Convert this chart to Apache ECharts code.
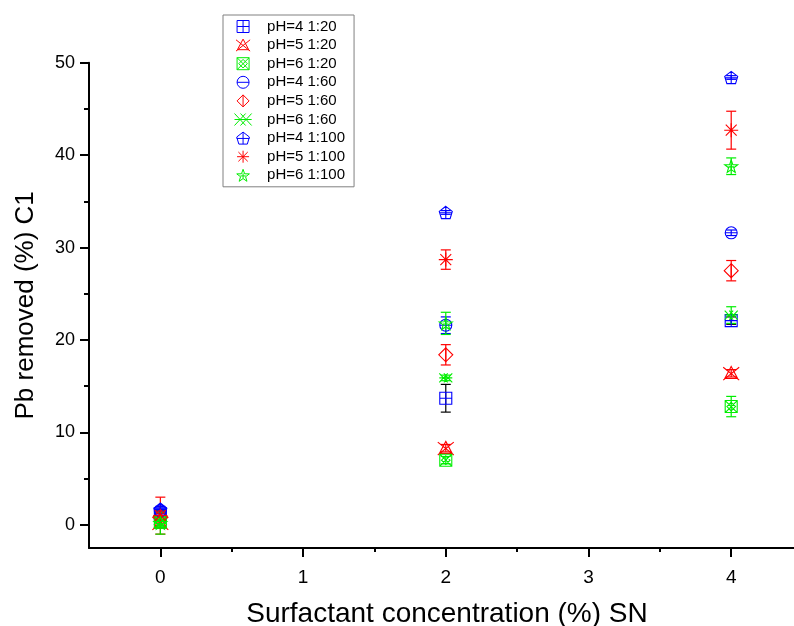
<!DOCTYPE html>
<html>
<head>
<meta charset="utf-8">
<script src="https://cdn.jsdelivr.net/npm/echarts@6/dist/echarts.min.js"></script>
<style>
  html, body { margin: 0; padding: 0; background: #fff; }
  #chart { width: 794px; height: 626px; }
</style>
</head>
<body>
<div id="chart"></div>
<script>
// surfactant concentration (x)
var concentrations = [0, 2, 4];

// Pb removed (%), mean values per series
var pH4_1_20 = [1.2, 13.7, 22.1];
var pH5_1_20 = [0.2, 8.3, 16.4];
var pH6_1_20 = [0.3, 7.0, 12.8];
var pH4_1_60 = [1.5, 21.6, 31.6];
var pH5_1_60 = [0.9, 18.4, 27.5];
var pH6_1_60 = [0.5, 15.9, 22.7];
var pH4_1_100 = [1.7, 33.8, 48.4];
var pH5_1_100 = [1.0, 28.7, 42.7];
var pH6_1_100 = [0.2, 21.8, 38.8];

// error bar half-widths
var err4_20 = [0.4, 1.5, 0.4];
var err5_20 = [0.3, 0.4, 0.4];
var err6_20 = [0.5, 0.4, 1.1];
var err4_60 = [0.3, 0.9, 0.3];
var err5_60 = [0.5, 1.1, 1.1];
var err6_60 = [0.8, 0.3, 0.9];
var err4_100 = [0.3, 0.2, 0.2];
var err5_100 = [2.0, 1.05, 2.05];
var err6_100 = [1.2, 1.2, 0.9];

var xTicks = [0, 1, 2, 3, 4];
var xMinorTicks = [0.5, 1.5, 2.5, 3.5];
var yTicks = [0, 10, 20, 30, 40, 50];
var yMinorTicks = [5, 15, 25, 35, 45];

var BLUE = '#0000ff', RED = '#ff0000', GREEN = '#00ee00';

// outline markers
var mk = {
  sqPlus: 'path://M2,2L18,2L18,18L2,18Z M10,2L10,18 M2,10L18,10',
  triX: 'path://M10,3L18,18L2,18Z M0,4L20,20 M20,4L0,20',
  sqX: 'path://M3,3L17,3L17,17L3,17Z M3,3L17,17 M17,3L3,17 M10,5L15,10L10,15L5,10Z',
  circMinus: 'path://M2,10A8,8,0,1,1,18,10A8,8,0,1,1,2,10Z M2,10L18,10',
  diaLine: 'path://M10,1L19,10L10,19L1,10Z M10,1L10,19',
  doubleX: 'path://M0,3L13,17 M13,3L0,17 M7,3L20,17 M20,3L7,17 M0,10L20,10',
  pentPlus: 'path://M10,1L19,8L16,18L4,18L1,8Z M10,1L10,18 M1,10L19,10',
  aster: 'path://M1,10L19,10 M3,3L17,17 M17,3L3,17 M10,1L10,19',
  star: 'path://M10,0L12.35,6.76L19.51,6.91L13.8,11.24L15.88,18.09L10,14L4.12,18.09L6.2,11.24L0.49,6.91L7.65,6.76Z M10,6L10,14 M6,10L14,10'
};

var groups = [
  { name: 'pH=4 1:20', y: pH4_1_20, e: err4_20, color: BLUE, errColor: '#000000', symbol: mk.sqPlus, size: 12 },
  { name: 'pH=5 1:20', y: pH5_1_20, e: err5_20, color: RED, errColor: RED, symbol: mk.triX, size: 16 },
  { name: 'pH=6 1:20', y: pH6_1_20, e: err6_20, color: GREEN, errColor: GREEN, symbol: mk.sqX, size: 12 },
  { name: 'pH=4 1:60', y: pH4_1_60, e: err4_60, color: BLUE, errColor: BLUE, symbol: mk.circMinus, size: 12 },
  { name: 'pH=5 1:60', y: pH5_1_60, e: err5_60, color: RED, errColor: RED, symbol: mk.diaLine, size: 14 },
  { name: 'pH=6 1:60', y: pH6_1_60, e: err6_60, color: GREEN, errColor: GREEN, symbol: mk.doubleX, size: 13 },
  { name: 'pH=4 1:100', y: pH4_1_100, e: err4_100, color: BLUE, errColor: BLUE, symbol: mk.pentPlus, size: 13 },
  { name: 'pH=5 1:100', y: pH5_1_100, e: err5_100, color: RED, errColor: RED, symbol: mk.aster, size: 14 },
  { name: 'pH=6 1:100', y: pH6_1_100, e: err6_100, color: GREEN, errColor: GREEN, symbol: mk.star, size: 13 }
];

var chart = echarts.init(document.getElementById('chart'));

var series = [];
groups.forEach(function (g) {
  var pts = concentrations.map(function (x, i) { return [x, g.y[i], g.e[i]]; });
  // error bars
  series.push({
    name: g.name + ' err',
    type: 'custom',
    silent: true,
    data: pts,
    z: 2,
    renderItem: function (params, api) {
      var x = api.value(0), y = api.value(1), e = api.value(2);
      var top = api.coord([x, y + e]);
      var bot = api.coord([x, y - e]);
      var c = 5;
      var st = { stroke: g.errColor, lineWidth: 1.2 };
      return {
        type: 'group',
        children: [
          { type: 'line', shape: { x1: top[0], y1: top[1], x2: bot[0], y2: bot[1] }, style: st },
          { type: 'line', shape: { x1: top[0] - c, y1: top[1], x2: top[0] + c, y2: top[1] }, style: st },
          { type: 'line', shape: { x1: bot[0] - c, y1: bot[1], x2: bot[0] + c, y2: bot[1] }, style: st }
        ]
      };
    }
  });
  series.push({
    name: g.name,
    type: 'scatter',
    z: 3,
    data: pts.map(function (p) { return [p[0], p[1]]; }),
    symbol: g.symbol,
    symbolSize: g.size,
    symbolKeepAspect: true,
    itemStyle: { color: 'transparent', borderColor: g.color, borderWidth: 1.1, opacity: 1 }
  });
});

var font = 'Liberation Sans, Arial, sans-serif';

var option = {
  animation: false,
  backgroundColor: '#fff',
  grid: { left: 89, top: 62.7, right: 0, bottom: 78, containLabel: false, outerBoundsMode: 'none' },
  legend: {
    orient: 'vertical',
    left: 223,
    top: 15,
    padding: [4, 9, 4, 11],
    itemWidth: 38,
    itemHeight: 12,
    itemGap: 3.6,
    borderColor: '#808080',
    borderWidth: 1,
    data: groups.map(function (g) { return g.name; }),
    itemStyle: { borderWidth: 1 },
    textStyle: { fontFamily: font, fontSize: 15, color: '#000' }
  },
  xAxis: [{
    type: 'value',
    min: -0.5,
    max: 4.44,
    name: 'Surfactant concentration (%) SN',
    nameLocation: 'middle',
    nameGap: 52,
    nameTextStyle: { fontFamily: font, fontSize: 28, color: '#000', padding: [0, 0, 0, 11] },
    axisLine: { show: true, onZero: false, lineStyle: { color: '#000', width: 2 } },
    axisTick: { show: true, length: 9, lineStyle: { color: '#000', width: 2 }, customValues: xTicks },
    axisLabel: { fontFamily: font, fontSize: 19, color: '#000', margin: 20, customValues: xTicks },
    splitLine: { show: false }
  }, {
    type: 'value',
    min: -0.5,
    max: 4.44,
    position: 'bottom',
    axisLine: { show: false, onZero: false },
    axisTick: { show: true, length: 4, lineStyle: { color: '#000', width: 2 }, customValues: xMinorTicks },
    axisLabel: { show: false },
    splitLine: { show: false }
  }],
  yAxis: [{
    type: 'value',
    min: -2.5,
    max: 50,
    name: 'Pb removed (%) C1',
    nameLocation: 'middle',
    nameGap: 50,
    nameTextStyle: { fontFamily: font, fontSize: 26, color: '#000' },
    axisLine: { show: true, onZero: false, lineStyle: { color: '#000', width: 2 } },
    axisTick: { show: true, length: 9, lineStyle: { color: '#000', width: 2 }, customValues: yTicks },
    axisLabel: { fontFamily: font, fontSize: 18, color: '#000', margin: 14, customValues: yTicks },
    splitLine: { show: false }
  }, {
    type: 'value',
    min: -2.5,
    max: 50,
    position: 'left',
    axisLine: { show: false, onZero: false },
    axisTick: { show: true, length: 5, lineStyle: { color: '#000', width: 2 }, customValues: yMinorTicks },
    axisLabel: { show: false },
    splitLine: { show: false }
  }],
  series: series
};

chart.setOption(option);
</script>
</body>
</html>
